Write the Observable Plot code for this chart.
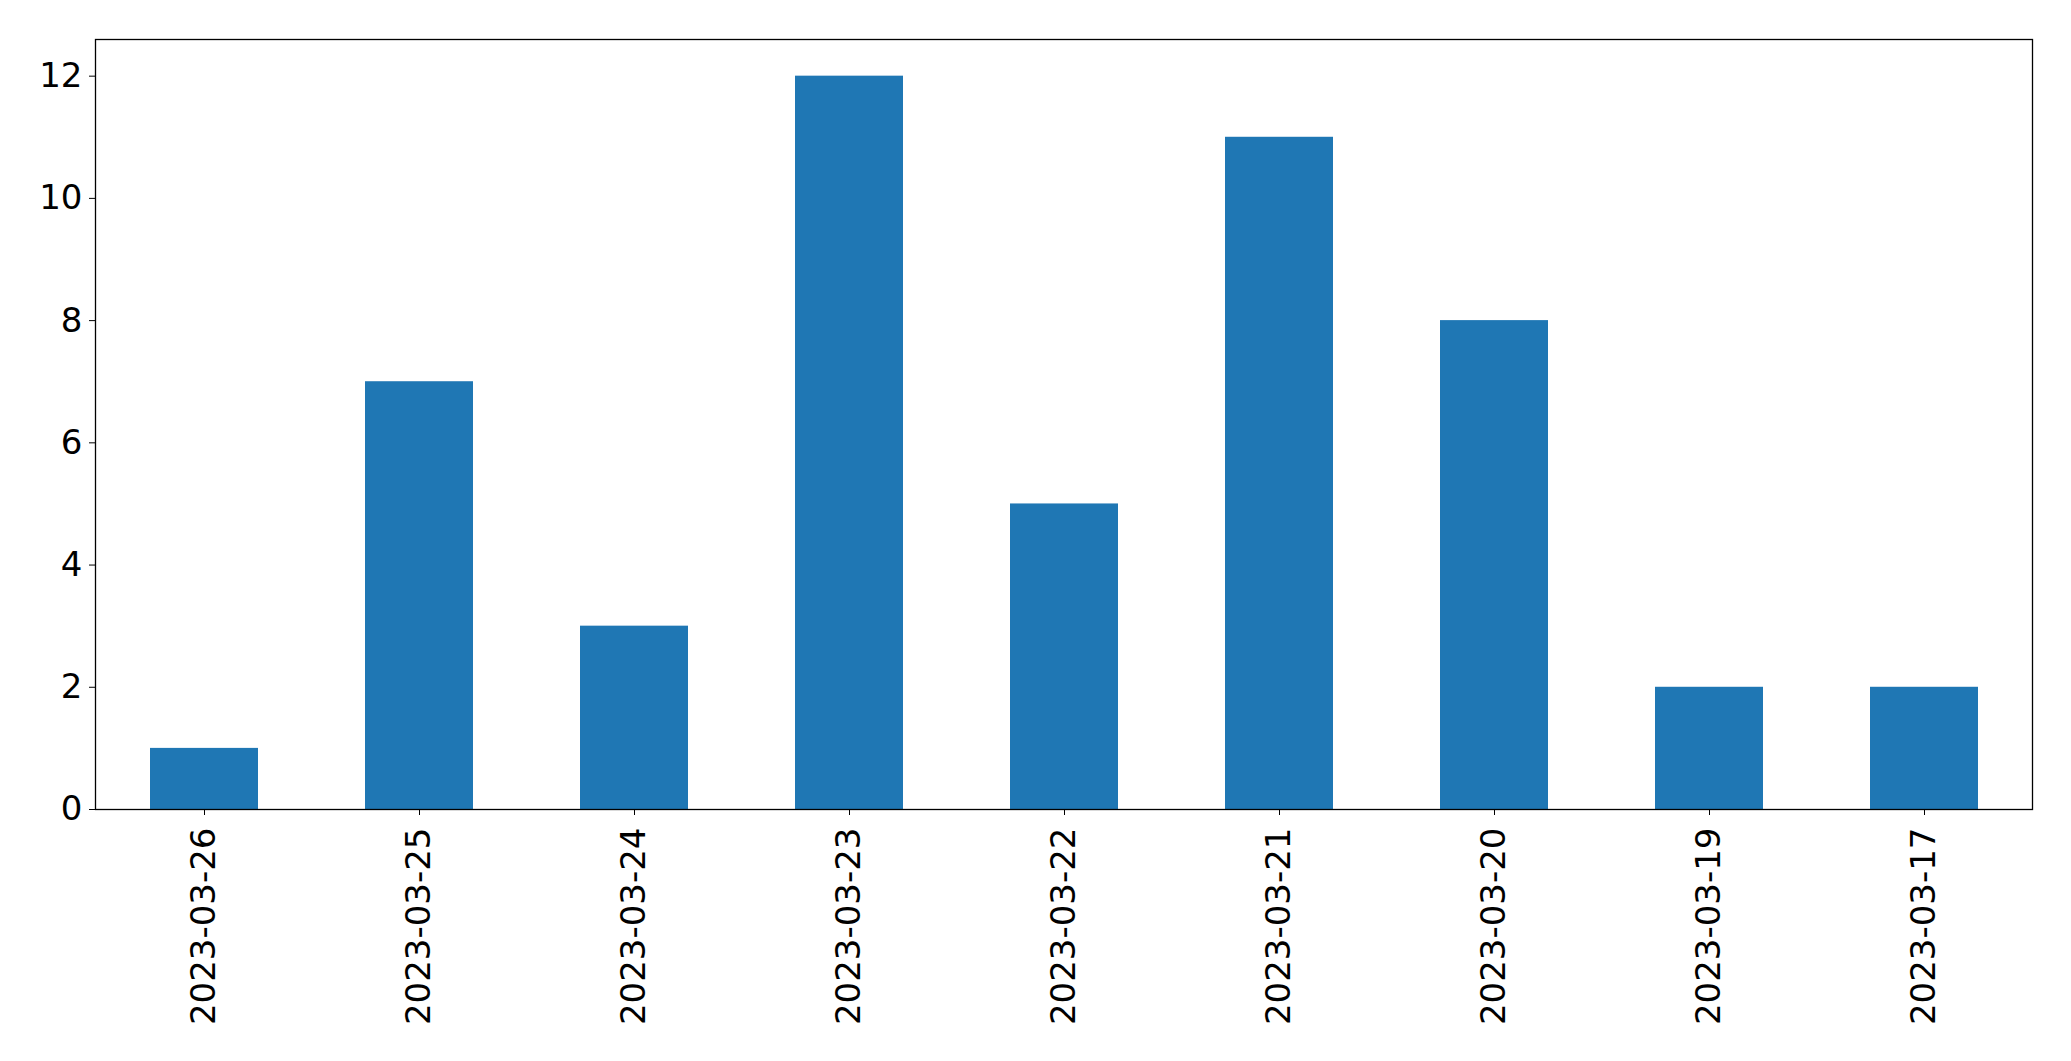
<!DOCTYPE html>
<html>
<head>
<meta charset="utf-8">
<script src="https://cdn.jsdelivr.net/npm/d3@7"></script>
<script src="https://cdn.jsdelivr.net/npm/@observablehq/plot@0.6"></script>
<style>
  html, body { margin: 0; padding: 0; background: #fff; }
  #chart svg { display: block; }
</style>
</head>
<body>
<div id="chart"></div>
<script>
const dates = ["2023-03-26","2023-03-25","2023-03-24","2023-03-23","2023-03-22","2023-03-21","2023-03-20","2023-03-19","2023-03-17"];
const counts = [1, 7, 3, 12, 5, 11, 8, 2, 2];
const yTicks = [0, 2, 4, 6, 8, 10, 12];

const data = dates.map((d, i) => ({date: d, count: counts[i]}));

const chart = Plot.plot({
  width: 2071,
  height: 1061,
  marginLeft: 95,
  marginRight: 39,
  marginTop: 39,
  marginBottom: 252,
  style: {fontFamily: "DejaVu Sans", fontSize: "34px", color: "#000", background: "#fff"},
  x: {domain: dates, padding: 0.5, paddingOuter: 0.25, label: null},
  y: {domain: [0, 12.6], label: null},
  marks: [
    Plot.barY(data, {x: "date", y: "count", fill: "#1f77b4"}),
    Plot.frame({stroke: "#000", strokeWidth: 1.3}),
    Plot.axisX({tickRotate: -90, tickSize: 6, tickPadding: 12, fontSize: 34, label: null, stroke: "#000"}),
    Plot.axisY({ticks: yTicks, tickSize: 6, tickPadding: 7, fontSize: 34, label: null, tickFormat: d => String(d)})
  ]
});
document.getElementById("chart").appendChild(chart);
</script>
</body>
</html>
